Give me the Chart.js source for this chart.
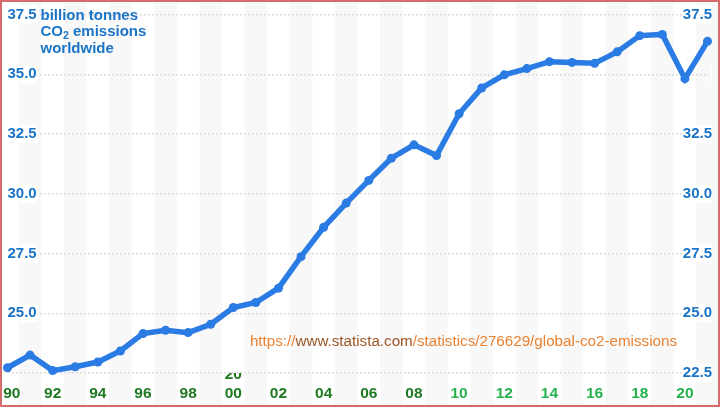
<!DOCTYPE html>
<html>
<head>
<meta charset="utf-8">
<script src="https://cdn.jsdelivr.net/npm/chart.js@4.4.1/dist/chart.umd.min.js"></script>
<style>
  html, body { margin: 0; padding: 0; background: #fff; }
  #wrap { width: 720px; height: 407px; position: relative; }
</style>
</head>
<body>
<div id="wrap"><canvas id="co2" width="720" height="407"></canvas></div>
<script>
// data (billion tonnes)
var years = [1990, 1991, 1992, 1993, 1994, 1995, 1996, 1997, 1998, 1999,
             2000, 2001, 2002, 2003, 2004, 2005, 2006, 2007, 2008, 2009,
             2010, 2011, 2012, 2013, 2014, 2015, 2016, 2017, 2018, 2019,
             2020, 2021];
var emissions = [22.72, 23.25, 22.60, 22.76, 22.96, 23.42, 24.15, 24.29, 24.19, 24.54,
                 25.24, 25.45, 26.05, 27.37, 28.60, 29.61, 30.56, 31.49, 32.05, 31.60,
                 33.35, 34.43, 34.98, 35.24, 35.53, 35.50, 35.46, 35.94, 36.62, 36.67,
                 34.82, 36.38];
var xTickLabels = ['  90', '92', '94', '96', '98', ['20', '00'], '02', '04', '06', '08',
                   '10', '12', '14', '16', '18', '20'];
var yTicks = [22.5, 25, 27.5, 30, 32.5, 35, 37.5];
var hideLeft = [22.5];
var hideRight = [35];
var titleLines = ['billion tonnes', 'CO', '2', ' emissions', 'worldwide'];
var sourceParts = ['https://', 'www.statista.com', '/statistics/276629/global-co2-emissions'];

var blue = '#1a74c8';
var lineBlue = '#2a7be4';
var darkGreen = '#1e7a22';
var lightGreen = '#27b24e';
var sans = "'Liberation Sans', Arial, sans-serif";

// stripes, frame, title and source line
var decorPlugin = {
    id: 'decor',
    beforeDraw: function (chart) {
        var ctx = chart.ctx;
        var xs = chart.scales.x;
        var step = xs.getPixelForValue(1) - xs.getPixelForValue(0);
        ctx.save();
        ctx.fillStyle = '#fff';
        ctx.fillRect(0, 0, chart.width, chart.height);
        ctx.fillStyle = '#f8f8f8';
        years.forEach(function (y, i) {
            if (y % 2 === 1) {
                var px = xs.getPixelForValue(i);
                ctx.fillRect(px - step / 2, 0, step, chart.height);
            }
        });
        ctx.restore();
    },
    afterDraw: function (chart) {
        var ctx = chart.ctx;
        var area = chart.chartArea;
        ctx.save();
        // title next to the top tick label
        var tx = area.left + 33;
        var ty = chart.scales.y.getPixelForValue(37.5) + 1;
        ctx.fillStyle = blue;
        ctx.textBaseline = 'middle';
        ctx.font = 'bold 15px ' + sans;
        ctx.fillText(titleLines[0], tx, ty);
        ctx.fillText(titleLines[1], tx, ty + 16.5);
        var w = ctx.measureText(titleLines[1]).width;
        ctx.font = 'bold 10.5px ' + sans;
        ctx.fillText(titleLines[2], tx + w, ty + 21);
        var w2 = ctx.measureText(titleLines[2]).width;
        ctx.font = 'bold 15px ' + sans;
        ctx.fillText(titleLines[3], tx + w + w2, ty + 16.5);
        ctx.fillText(titleLines[4], tx, ty + 33);

        // source url
        ctx.font = '15.2px ' + sans;
        ctx.textBaseline = 'alphabetic';
        var colors = ['#ea8232', '#9c5526', '#ea8232'];
        var total = 0;
        sourceParts.forEach(function (p) { total += ctx.measureText(p).width; });
        var sx = 677 - total;
        sourceParts.forEach(function (p, i) {
            ctx.fillStyle = colors[i];
            ctx.fillText(p, sx, 346);
            sx += ctx.measureText(p).width;
        });

        // frame
        ctx.strokeStyle = '#d46c6c';
        ctx.lineWidth = 2;
        ctx.strokeRect(1, 1, chart.width - 2, chart.height - 2);
        ctx.restore();
    }
};

function yLabel(hidden) {
    return function (value) {
        return hidden.indexOf(value) >= 0 ? '' : value.toFixed(1);
    };
}

new Chart(document.getElementById('co2'), {
    type: 'line',
    data: {
        labels: years,
        datasets: [{
            data: emissions,
            borderColor: lineBlue,
            backgroundColor: lineBlue,
            borderWidth: 5.5,
            pointRadius: 4.5,
            pointBorderWidth: 0,
            pointBackgroundColor: lineBlue,
            tension: 0,
            clip: false
        }]
    },
    options: {
        responsive: false,
        animation: false,
        devicePixelRatio: 1,
        layout: { padding: { left: 7.5, right: 12.5, top: 14.6, bottom: 0 } },
        plugins: {
            legend: { display: false },
            tooltip: { enabled: false }
        },
        scales: {
            x: {
                type: 'category',
                offset: false,
                grid: { display: false, drawTicks: false },
                border: { display: false },
                afterFit: function (s) {
                    s.height = 34;
                    s.paddingLeft = 0;
                    s.paddingRight = 0;
                },
                ticks: {
                    autoSkip: false,
                    maxRotation: 0,
                    padding: 2,
                    crossAlign: 'far',
                    font: { family: sans, size: 15.5, weight: 'bold', lineHeight: 1.22 },
                    color: function (c) {
                        return years[c.index] < 2000 ? darkGreen : lightGreen;
                    },
                    callback: function (value, index) {
                        if (years[index] % 2 === 1) return null;
                        return xTickLabels[index / 2];
                    }
                }
            },
            y: {
                position: 'left',
                min: 22.5,
                max: 37.5,
                afterBuildTicks: function (s) {
                    s.ticks = yTicks.map(function (v) { return { value: v }; });
                },
                afterFit: function (s) { s.width = 0; },
                grid: { color: '#dcdcdc', lineWidth: 1.5, drawTicks: false },
                border: { display: false, dash: [2, 2] },
                ticks: {
                    mirror: true,
                    padding: 0,
                    color: blue,
                    font: { family: sans, size: 15, weight: 'bold' },
                    showLabelBackdrop: true,
                    backdropColor: '#fff',
                    backdropPadding: { left: 0, right: 1, top: 0, bottom: 0 },
                    callback: yLabel(hideLeft)
                }
            },
            y2: {
                position: 'right',
                min: 22.5,
                max: 37.5,
                afterBuildTicks: function (s) {
                    s.ticks = yTicks.map(function (v) { return { value: v }; });
                },
                afterFit: function (s) { s.width = 0; },
                grid: { display: false, drawTicks: false },
                border: { display: false },
                ticks: {
                    mirror: true,
                    padding: 4.5,
                    color: blue,
                    font: { family: sans, size: 15, weight: 'bold' },
                    showLabelBackdrop: true,
                    backdropColor: '#fff',
                    backdropPadding: { left: 1, right: 0, top: 0, bottom: 0 },
                    callback: yLabel(hideRight)
                }
            }
        }
    },
    plugins: [decorPlugin]
});
</script>
</body>
</html>
